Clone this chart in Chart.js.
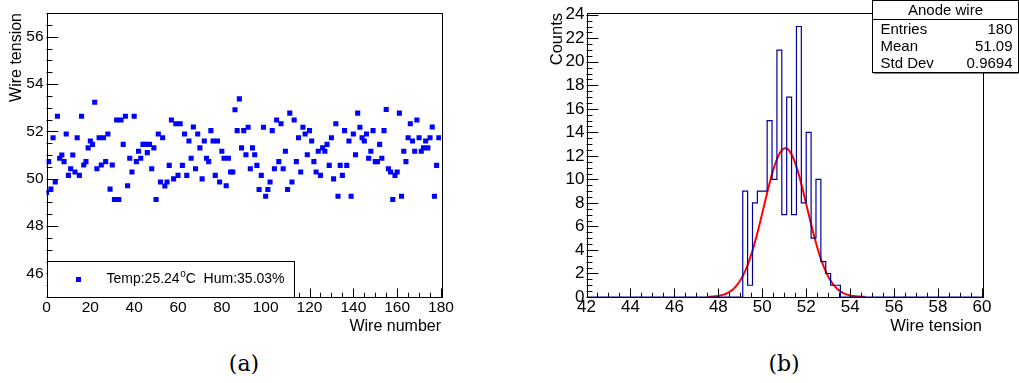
<!DOCTYPE html>
<html>
<head>
<meta charset="utf-8">
<title>Anode wire tension</title>
<script src="https://cdn.jsdelivr.net/npm/chart.js@4.4.1/dist/chart.umd.min.js"></script>
<style>
  html, body { margin: 0; padding: 0; background: #fff; }
  body { width: 1019px; height: 383px; position: relative; overflow: hidden; }
  canvas { position: absolute; top: 0; }
  #tensionChart { left: 0; }
  #histChart { left: 520px; }
  .caption { position: absolute; top: 351px; width: 60px; margin-left: -30px; text-align: center;
             font-family: "DejaVu Serif", "Liberation Serif", serif; font-size: 22px; color: #000; }
</style>
</head>
<body>
<canvas id="tensionChart" width="470" height="345"></canvas>
<canvas id="histChart" width="499" height="345"></canvas>
<div class="caption" style="left:244px">(a)</div>
<div class="caption" style="left:784px">(b)</div>
<script>
// (a) tension of each anode wire, index = wire number
var wireTension = [
    49.42, 50.72, 49.56, 51.73, 49.86, 52.64, 50.86, 51.00, 50.72, 51.89,
    50.14, 50.42, 51.00, 50.28, 51.73, 50.14, 52.64, 50.58, 50.72, 51.30,
    51.59, 51.45, 53.23, 50.42, 51.73, 50.58, 51.73, 50.72, 51.89, 49.56,
    50.58, 49.12, 52.48, 49.12, 52.48, 51.45, 52.64, 49.70, 50.86, 50.28,
    52.64, 50.72, 51.16,
    50.86, 51.45, 51.45, 51.10, 51.45, 50.42, 51.30, 49.12, 51.89, 49.86,
    51.73, 49.69, 49.86, 50.56, 52.48, 49.99, 52.32, 50.14, 52.32, 50.56,
    51.89, 50.14, 51.59, 50.86, 52.18, 50.42, 51.89, 51.30, 49.99, 51.59,
    50.86, 50.72, 52.03, 51.59, 50.14, 51.59, 49.86, 51.16, 50.86, 49.70,
    50.86, 50.28, 50.28, 52.91, 52.03, 53.37,
    51.30, 52.03, 51.01, 52.17, 50.42, 51.30, 51.01, 50.56, 49.54, 50.14,
    52.17, 49.26, 49.54, 49.86, 52.03, 50.42, 52.48, 50.72, 52.32, 50.42,
    51.16, 49.54, 52.77, 49.86, 52.48, 50.72, 51.73, 50.28, 52.17, 51.89,
    51.01, 52.03, 51.59, 50.72, 50.28, 51.16, 50.14, 51.30, 51.16, 51.45,
    50.56, 51.73, 49.99, 52.32, 49.26,
    50.56, 50.14, 52.03, 50.56, 51.59, 49.26, 51.89, 51.01, 52.77, 52.17,
    51.73, 51.59, 51.89, 50.86, 51.16, 52.03, 50.72, 50.72, 51.45, 50.86,
    52.03, 52.92, 50.42, 50.28, 49.12, 50.14, 50.28, 52.77, 49.26, 51.16,
    50.72, 51.73, 52.32, 51.59, 51.16, 52.48, 51.73, 51.16, 51.30, 51.59,
    51.30, 51.73, 52.18, 49.26, 50.56, 51.73
];
var wireTicks = [0, 20, 40, 60, 80, 100, 120, 140, 160, 180];
var tensionTicks = [46, 48, 50, 52, 54, 56];
var legendLabel = ['Temp:25.24', 'o', 'C  Hum:35.03%'];

// (b) histogram of the tensions (non-empty bins only)
var binCounts = [9, 1, 8, 9, 9, 15, 10, 21, 7, 17, 7, 23, 8, 14, 5, 10, 3, 2, 1, 1];
var binFirstEdge = 49.111;
var binWidth = 0.2222;
var histRange = [42, 60];
var histTicks = [42, 44, 46, 48, 50, 52, 54, 56, 58, 60];
var countTicks = [0, 2, 4, 6, 8, 10, 12, 14, 16, 18, 20, 22, 24];
var fitConstant = 12.65;
var fitMean = 51.05;
var fitSigma = 0.98;
var fitRange = [47.55, 54.69];
var statsTitle = 'Anode wire';
var statsNames = ['Entries', 'Mean', 'Std Dev'];
var statsValues = ['180', '51.09', '0.9694'];

Chart.defaults.font.family = '"Liberation Sans", Arial, Helvetica, sans-serif';
Chart.defaults.color = '#000';

// ROOT style frame: box around the plot, ticks pointing inwards
var rootFrame = {
    id: 'rootFrame',
    afterDatasetsDraw: function (chart, args, opts) {
        var ctx = chart.ctx, a = chart.chartArea;
        var sx = chart.scales.x, sy = chart.scales.y;
        ctx.save();
        ctx.strokeStyle = '#000';
        ctx.lineWidth = 1;
        ctx.beginPath();
        var lenX = (a.bottom - a.top) * 0.03;
        var n = Math.round((sx.max - sx.min) / opts.xMinor);
        for (var i = 0; i <= n; i++) {
            var v = sx.min + i * opts.xMinor;
            var major = Math.abs(v / opts.xMajor - Math.round(v / opts.xMajor)) < 1e-6;
            var px = Math.round(sx.getPixelForValue(v)) + 0.5;
            ctx.moveTo(px, a.bottom);
            ctx.lineTo(px, a.bottom - (major ? lenX : lenX / 2));
        }
        var lenY = (a.right - a.left) * 0.03;
        n = Math.floor((sy.max - sy.min) / opts.yMinor + 1e-6);
        for (var j = 0; j <= n; j++) {
            var w = sy.min + j * opts.yMinor;
            var isMajor = Math.abs(w / opts.yMajor - Math.round(w / opts.yMajor)) < 1e-6;
            var py = Math.round(sy.getPixelForValue(w)) + 0.5;
            ctx.moveTo(a.left, py);
            ctx.lineTo(a.left + (isMajor ? lenY : lenY / 2), py);
        }
        ctx.stroke();
        ctx.strokeRect(Math.round(a.left) + 0.5, Math.round(a.top) + 0.5,
            Math.round(a.right - a.left), Math.round(a.bottom - a.top));
        ctx.restore();
    }
};

var tempLegend = {
    id: 'tempLegend',
    afterDraw: function (chart) {
        var ctx = chart.ctx, a = chart.chartArea;
        var left = Math.round(a.left) + 0.5, bottom = Math.round(a.bottom) + 0.5;
        var w = 247, h = 36;
        ctx.save();
        ctx.fillStyle = '#fff';
        ctx.fillRect(left, bottom - h, w, h);
        ctx.strokeStyle = '#000';
        ctx.lineWidth = 1;
        ctx.strokeRect(left, bottom - h, w, h);
        var cy = bottom - h / 2;
        ctx.fillStyle = '#0000ff';
        ctx.fillRect(left + 28.5, cy - 2.5, 5, 5);
        ctx.fillStyle = '#000';
        ctx.textBaseline = 'middle';
        ctx.font = '14px "Liberation Sans", Arial, sans-serif';
        var tx = left + 59;
        ctx.fillText(legendLabel[0], tx, cy);
        tx += ctx.measureText(legendLabel[0]).width;
        ctx.font = '10px "Liberation Sans", Arial, sans-serif';
        ctx.fillText(legendLabel[1], tx + 0.5, cy - 5);
        tx += ctx.measureText(legendLabel[1]).width + 0.5;
        ctx.font = '14px "Liberation Sans", Arial, sans-serif';
        ctx.fillText(legendLabel[2], tx, cy);
        ctx.restore();
    }
};

var statsBox = {
    id: 'statsBox',
    afterDraw: function (chart) {
        var ctx = chart.ctx;
        var x0 = 352.5, y0 = 0.5, x1 = 498.5, y1 = 72.5;
        ctx.save();
        ctx.fillStyle = '#fff';
        ctx.fillRect(x0, y0, x1 - x0, y1 - y0);
        ctx.strokeStyle = '#000';
        ctx.lineWidth = 1;
        ctx.strokeRect(x0, y0, x1 - x0, y1 - y0);
        ctx.beginPath();
        ctx.moveTo(x0, 19.5);
        ctx.lineTo(x1, 19.5);
        ctx.moveTo(x0 + 1, y1 + 0.5);
        ctx.lineTo(x1, y1 + 0.5);
        ctx.stroke();
        ctx.fillStyle = '#000';
        ctx.textBaseline = 'middle';
        ctx.font = '15px "Liberation Sans", Arial, sans-serif';
        ctx.textAlign = 'center';
        ctx.fillText(statsTitle, (x0 + x1) / 2, 11);
        for (var i = 0; i < statsNames.length; i++) {
            var ry = 29.5 + i * 17;
            ctx.textAlign = 'left';
            ctx.fillText(statsNames[i], x0 + 8, ry);
            ctx.textAlign = 'right';
            ctx.fillText(statsValues[i], x1 - 6, ry);
        }
        ctx.restore();
    }
};

function tickFont(size) {
    return { family: '"Liberation Sans", Arial, sans-serif', size: size };
}

function fixedTicks(values) {
    return function (scale) {
        scale.ticks = values.map(function (v) { return { value: v }; });
    };
}

function drawTensionChart() {
    var points = wireTension.map(function (v, i) { return { x: i, y: v }; });
    new Chart(document.getElementById('tensionChart'), {
        type: 'scatter',
        data: {
            datasets: [{
                data: points,
                pointStyle: 'rect',
                pointRadius: 3.6,
                pointHoverRadius: 3.6,
                backgroundColor: '#0000ff',
                borderWidth: 0
            }]
        },
        options: {
            responsive: false,
            animation: false,
            events: [],
            layout: { padding: { top: 13, right: 29, bottom: 8, left: 0 } },
            plugins: {
                legend: { display: false },
                tooltip: { enabled: false },
                rootFrame: { xMajor: 20, xMinor: 5, yMajor: 2, yMinor: 0.5 }
            },
            scales: {
                x: {
                    type: 'linear', min: 0, max: 180,
                    grid: { display: false, drawTicks: false },
                    border: { display: false },
                    afterBuildTicks: fixedTicks(wireTicks),
                    ticks: { font: tickFont(15.5), padding: 1, autoSkip: false, maxRotation: 0 },
                    title: { display: true, text: 'Wire number', align: 'end', font: tickFont(16), padding: { top: 0, bottom: 1 } },
                    afterFit: function (s) { s.height = 40; }
                },
                y: {
                    min: 45, max: 57,
                    grid: { display: false, drawTicks: false },
                    border: { display: false },
                    afterBuildTicks: fixedTicks(tensionTicks),
                    ticks: { font: tickFont(15.5), padding: 3, autoSkip: false },
                    title: { display: true, text: 'Wire tension', align: 'end', font: tickFont(16), padding: { top: 7, bottom: 0 } },
                    afterFit: function (s) { s.width = 46.5; }
                }
            }
        },
        plugins: [rootFrame, tempLegend]
    });
}

function drawHistChart() {
    var steps = [{ x: histRange[0], y: 0 }];
    binCounts.forEach(function (c, i) {
        steps.push({ x: binFirstEdge + i * binWidth, y: c });
    });
    steps.push({ x: binFirstEdge + binCounts.length * binWidth, y: 0 });
    steps.push({ x: histRange[1], y: 0 });

    var fit = [];
    var nFit = 140;
    for (var k = 0; k <= nFit; k++) {
        var t = fitRange[0] + (fitRange[1] - fitRange[0]) * k / nFit;
        var d = (t - fitMean) / fitSigma;
        fit.push({ x: t, y: fitConstant * Math.exp(-0.5 * d * d) });
    }

    new Chart(document.getElementById('histChart'), {
        type: 'line',
        data: {
            datasets: [{
                data: steps,
                stepped: 'before',
                borderColor: '#000099',
                borderWidth: 1.2,
                pointRadius: 0,
                fill: false
            }, {
                data: fit,
                borderColor: '#ff0000',
                borderWidth: 2,
                pointRadius: 0,
                tension: 0,
                fill: false
            }]
        },
        options: {
            responsive: false,
            animation: false,
            events: [],
            layout: { padding: { top: 13, right: 37, bottom: 8, left: 0 } },
            plugins: {
                legend: { display: false },
                tooltip: { enabled: false },
                rootFrame: { xMajor: 2, xMinor: 0.5, yMajor: 2, yMinor: 0.5 }
            },
            scales: {
                x: {
                    type: 'linear', min: histRange[0], max: histRange[1],
                    grid: { display: false, drawTicks: false },
                    border: { display: false },
                    afterBuildTicks: fixedTicks(histTicks),
                    ticks: { font: tickFont(17), padding: 0, autoSkip: false, maxRotation: 0 },
                    title: { display: true, text: 'Wire tension', align: 'end', font: tickFont(16.5), padding: { top: 0, bottom: 1 } },
                    afterFit: function (s) { s.height = 40; }
                },
                y: {
                    min: 0, max: 24.15,
                    grid: { display: false, drawTicks: false },
                    border: { display: false },
                    afterBuildTicks: fixedTicks(countTicks),
                    ticks: { font: tickFont(17), padding: 2, autoSkip: false },
                    title: { display: true, text: 'Counts', align: 'end', font: tickFont(16.5), padding: { top: 28, bottom: 0 } },
                    afterFit: function (s) { s.width = 66.5; }
                }
            }
        },
        plugins: [rootFrame, statsBox]
    });
}

document.addEventListener('DOMContentLoaded', function () {
    drawTensionChart();
    drawHistChart();
});
</script>
</body>
</html>
